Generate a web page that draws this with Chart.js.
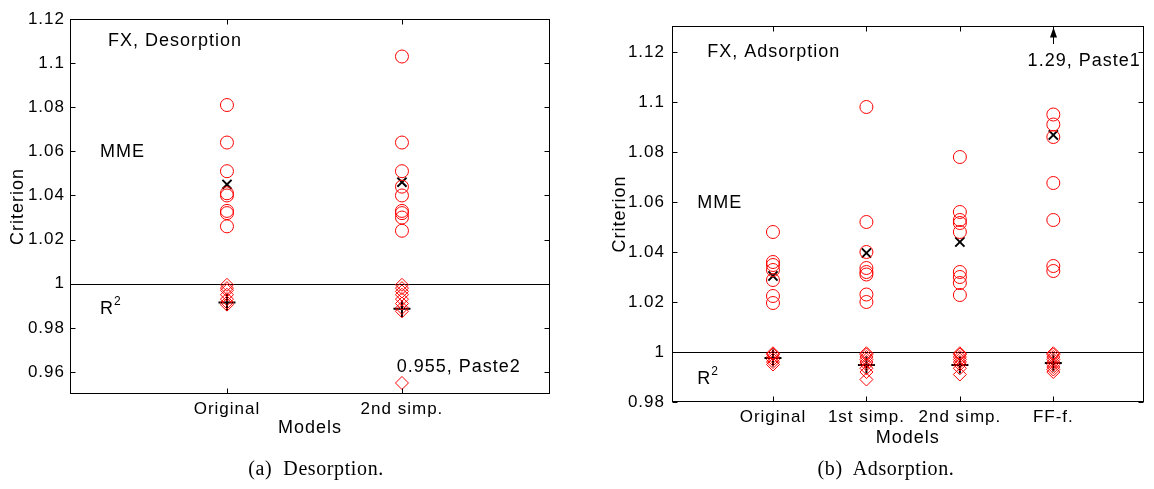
<!DOCTYPE html>
<html>
<head>
<meta charset="utf-8">
<script src="https://cdn.jsdelivr.net/npm/chart.js@4.4.1/dist/chart.umd.min.js"></script>
<style>
  body { margin: 0; background: #fff; width: 1154px; height: 489px; position: relative; overflow: hidden; }
  .panel { position: absolute; top: 0; height: 489px; }
  #pa { left: 0; width: 580px; }
  #pb { left: 580px; width: 574px; }
  .cap { position: absolute; top: 457px; font-family: "Liberation Serif", "DejaVu Serif", serif; font-size: 20px; letter-spacing: 0.6px; color: #000; transform: translateX(-50%); white-space: nowrap; }
</style>
</head>
<body>
<div class="panel" id="pa"><canvas id="desChart"></canvas></div>
<div class="panel" id="pb"><canvas id="adsChart"></canvas></div>
<div class="cap" style="left:316px">(a)&nbsp; Desorption.</div>
<div class="cap" style="left:886px">(b)&nbsp; Adsorption.</div>
<script>
// ---- data: (a) desorption ----
const desModels = ['Original', '2nd simp.'];
const desMME = [
    [1.081, 1.064, 1.051, 1.041, 1.040, 1.033, 1.032, 1.026],
    [1.103, 1.064, 1.051, 1.044, 1.040, 1.033, 1.032, 1.030, 1.024]
];
const desMMEMean = [1.045, 1.046];
const desR2 = [
    [0.9995, 0.998, 0.997, 0.995, 0.993, 0.9915, 0.9905],
    [0.9995, 0.998, 0.9965, 0.995, 0.993, 0.991, 0.989, 0.9875, 0.955]
];
const desR2Mean = [0.9915, 0.9886];
const desYTicks = [0.96, 0.98, 1, 1.02, 1.04, 1.06, 1.08, 1.1, 1.12];

// ---- data: (b) adsorption ----
const adsModels = ['Original', '1st simp.', '2nd simp.', 'FF-f.'];
const adsMME = [
    [1.048, 1.036, 1.0348, 1.0328, 1.0288, 1.0224, 1.0196],
    [1.098, 1.052, 1.040, 1.0336, 1.032, 1.031, 1.023, 1.020],
    [1.078, 1.056, 1.0528, 1.0516, 1.048, 1.032, 1.030, 1.0276, 1.0228],
    [1.095, 1.091, 1.086, 1.0676, 1.0528, 1.0344, 1.0324]
];
const adsMMEMean = [1.0304, 1.0396, 1.044, 1.0868];
const adsR2 = [
    [0.9995, 0.999, 0.998, 0.997, 0.996, 0.995],
    [0.9995, 0.999, 0.998, 0.997, 0.996, 0.995, 0.9935, 0.992, 0.989],
    [0.9995, 0.999, 0.998, 0.997, 0.996, 0.995, 0.9935, 0.991],
    [0.9995, 0.999, 0.998, 0.997, 0.996, 0.995, 0.994, 0.993, 0.992]
];
const adsR2Mean = [0.9976, 0.9948, 0.9948, 0.9956];
const adsOutlier = 1.29;   // FF-f., Paste1, off the axis
const adsYTicks = [0.98, 1, 1.02, 1.04, 1.06, 1.08, 1.1, 1.12];

Chart.defaults.font.family = "'Liberation Sans', Arial, sans-serif";
Chart.defaults.font.size = 17;
Chart.defaults.color = '#000';

const RED = 'rgb(255,0,0)';
const NOTE_FONT = "18px 'Liberation Sans', Arial, sans-serif";

function toPoints(groups) {
    const pts = [];
    groups.forEach((vals, i) => vals.forEach(v => pts.push({ x: i + 1, y: v })));
    return pts;
}

// MATLAB-like box: frame, inward ticks, y=1 line, text notes
function matlabBox(notes, arrow) {
    return {
        id: 'matlabBox',
        beforeDraw(chart) {
            chart.ctx.letterSpacing = '1px';
        },
        beforeDatasetsDraw(chart) {
            const { ctx, chartArea: a, scales: { y } } = chart;
            const py = Math.round(y.getPixelForValue(1)) + 0.5;
            ctx.save();
            ctx.strokeStyle = '#000';
            ctx.lineWidth = 1;
            ctx.beginPath();
            ctx.moveTo(a.left, py);
            ctx.lineTo(a.right, py);
            ctx.stroke();
            ctx.restore();
        },
        afterDraw(chart) {
            const { ctx, chartArea: a, scales: { x, y } } = chart;
            const L = Math.round(a.left) + 0.5, R = Math.round(a.right) - 0.5;
            const T = Math.round(a.top) + 0.5, B = Math.round(a.bottom) - 0.5;
            ctx.save();
            ctx.strokeStyle = '#000';
            ctx.lineWidth = 1;
            ctx.strokeRect(L, T, R - L, B - T);
            ctx.beginPath();
            y.ticks.forEach(t => {
                const py = Math.round(y.getPixelForValue(t.value)) + 0.5;
                ctx.moveTo(L, py); ctx.lineTo(L + 5, py);
                ctx.moveTo(R, py); ctx.lineTo(R - 5, py);
            });
            x.ticks.forEach(t => {
                const px = Math.round(x.getPixelForValue(t.value)) + 0.5;
                ctx.moveTo(px, T); ctx.lineTo(px, T + 5);
                ctx.moveTo(px, B); ctx.lineTo(px, B - 5);
            });
            ctx.stroke();

            ctx.fillStyle = '#000';
            ctx.font = NOTE_FONT;
            ctx.letterSpacing = '1px';
            ctx.textBaseline = 'middle';
            notes.forEach(n => {
                ctx.textAlign = n.align || 'left';
                const px = x.getPixelForValue(n.x), py = y.getPixelForValue(n.y);
                ctx.fillText(n.text, px, py);
                if (n.sup) {
                    const w = ctx.measureText(n.text).width;
                    ctx.font = "12px 'Liberation Sans', Arial, sans-serif";
                    ctx.fillText(n.sup, px + w, py - 7);
                    ctx.font = NOTE_FONT;
                }
            });

            if (arrow) {
                const ax = Math.round(x.getPixelForValue(arrow.x)) + 0.5;
                const y0 = y.getPixelForValue(arrow.from);
                ctx.beginPath();
                ctx.moveTo(ax, y0);
                ctx.lineTo(ax, T + 1);
                ctx.stroke();
                ctx.beginPath();
                ctx.moveTo(ax, T + 1);
                ctx.lineTo(ax - 3.5, T + 11);
                ctx.lineTo(ax + 3.5, T + 11);
                ctx.closePath();
                ctx.fill();
            }
            ctx.restore();
        }
    };
}

function makeChart(id, models, mme, mmeMean, r2, r2Mean, yTicks, cfg) {
    return new Chart(document.getElementById(id), {
        type: 'scatter',
        data: {
            datasets: [
                {
                    label: 'MME',
                    data: toPoints(mme),
                    pointStyle: 'circle',
                    pointRadius: 6.5,
                    borderColor: RED,
                    backgroundColor: 'rgba(0,0,0,0)',
                    borderWidth: 1
                },
                {
                    label: 'MME mean',
                    data: mmeMean.map((v, i) => ({ x: i + 1, y: v })),
                    pointStyle: 'crossRot',
                    pointRadius: 6.5,
                    borderColor: '#000',
                    borderWidth: 2
                },
                {
                    label: 'R2',
                    data: toPoints(r2),
                    pointStyle: 'rectRot',
                    pointRadius: 6.5,
                    borderColor: RED,
                    backgroundColor: 'rgba(0,0,0,0)',
                    borderWidth: 1
                },
                {
                    label: 'R2 mean',
                    data: r2Mean.map((v, i) => ({ x: i + 1, y: v })),
                    pointStyle: 'cross',
                    pointRadius: 8.5,
                    borderColor: '#000',
                    borderWidth: 2
                }
            ]
        },
        options: {
            responsive: false,
            animation: false,
            events: [],
            layout: { padding: cfg.padding },
            plugins: { legend: { display: false }, tooltip: { enabled: false } },
            scales: {
                x: {
                    type: 'linear',
                    min: cfg.xMin,
                    max: cfg.xMax,
                    grid: { display: false, drawTicks: false },
                    border: { display: false },
                    afterBuildTicks: s => { s.ticks = models.map((m, i) => ({ value: i + 1 })); },
                    afterFit: s => { s.height = cfg.xAxisHeight; },
                    ticks: {
                        padding: cfg.xTickPad,
                        maxRotation: 0,
                        autoSkip: false,
                        callback: (v, i) => models[i]
                    },
                    title: { display: true, text: 'Models', font: { size: 18 }, padding: { top: 0, bottom: 0 } }
                },
                y: {
                    min: cfg.yMin,
                    max: cfg.yMax,
                    grid: { display: false, drawTicks: false },
                    border: { display: false },
                    afterBuildTicks: s => { s.ticks = yTicks.map(v => ({ value: v })); },
                    afterFit: s => { s.width = cfg.yAxisWidth; },
                    ticks: {
                        padding: cfg.yTickPad,
                        callback: v => String(Number(v.toFixed(2)))
                    },
                    title: { display: true, text: 'Criterion', font: { size: 18 }, padding: { top: cfg.yTitlePad, bottom: 0 } }
                }
            }
        },
        plugins: [matlabBox(cfg.notes, cfg.arrow)]
    });
}

function sizeCanvas(id, w, h) {
    const c = document.getElementById(id);
    c.width = w; c.height = h;
    c.style.width = w + 'px'; c.style.height = h + 'px';
}

sizeCanvas('desChart', 580, 489);
sizeCanvas('adsChart', 574, 489);

makeChart('desChart', desModels, desMME, desMMEMean, desR2, desR2Mean, desYTicks, {
    xMin: 0.103, xMax: 2.846, yMin: 0.95, yMax: 1.12,
    padding: { left: 0, right: 30, top: 19, bottom: 50 },
    yAxisWidth: 70, xAxisHeight: 45, xTickPad: 5, yTickPad: 5, yTitlePad: 7,
    notes: [
        { text: 'FX, Desorption', x: 0.32, y: 1.11 },
        { text: 'MME', x: 0.275, y: 1.0595 },
        { text: 'R', sup: '2', x: 0.275, y: 0.9885 },
        { text: desR2[1][desR2[1].length - 1] + ', Paste2', x: 1.97, y: 0.962 }
    ],
    arrow: null
});

makeChart('adsChart', adsModels, adsMME, adsMMEMean, adsR2, adsR2Mean, adsYTicks, {
    xMin: -0.0805, xMax: 4.965, yMin: 0.98, yMax: 1.1304,
    padding: { left: 25, right: 1, top: 26, bottom: 40 },
    yAxisWidth: 67, xAxisHeight: 47, xTickPad: 5, yTickPad: 7, yTitlePad: 4,
    notes: [
        { text: 'FX, Adsorption', x: 0.297, y: 1.12 },
        { text: 'MME', x: 0.19, y: 1.0596 },
        { text: 'R', sup: '2', x: 0.19, y: 0.9893 },
        { text: adsOutlier + ', Paste1', x: 4.33, y: 1.1164, align: 'center' }
    ],
    arrow: { x: 4, from: 1.1232 }
});
</script>
</body>
</html>
